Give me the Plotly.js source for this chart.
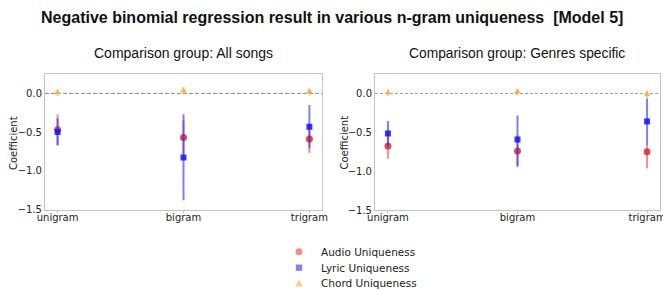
<!DOCTYPE html>
<html><head><meta charset="utf-8">
<script src="https://cdn.plot.ly/plotly-3.0.1.min.js"></script>
<style>body{margin:0;padding:0;background:#fff}#chart{width:663px;height:290px}</style>
</head><body><div id="chart"></div>
<script>
const ngrams = ['unigram', 'bigram', 'trigram'];
const seriesNames = ['Audio Uniqueness', 'Lyric Uniqueness', 'Chord Uniqueness'];
// Left: All songs
const allAudio = [-0.47, -0.57, -0.59];
const allAudioErrUp = [0.20, 0.22, 0.18];
const allAudioErrDown = [0.20, 0.22, 0.18];
const allLyric = [-0.50, -0.83, -0.43];
const allLyricErrUp = [0.18, 0.56, 0.28];
const allLyricErrDown = [0.17, 0.55, 0.28];
const allChord = [0.01, 0.035, 0.02];
const allChordErr = [0.045, 0.05, 0.045];
// Right: Genres specific
const genAudio = [-0.675, -0.74, -0.75];
const genAudioErrUp = [0.17, 0.20, 0.08];
const genAudioErrDown = [0.165, 0.21, 0.215];
const genLyric = [-0.515, -0.593, -0.36];
const genLyricErrUp = [0.16, 0.31, 0.295];
const genLyricErrDown = [0.16, 0.34, 0.31];
const genChord = [0.01, 0.02, -0.01];
const genChordErr = [0.045, 0.045, 0.05];

const cAudio = 'rgba(228,40,40,0.85)', cAudioErr = 'rgba(235,70,70,0.6)';
const cLyric = 'rgba(20,20,255,0.85)', cLyricErr = 'rgba(40,40,255,0.6)';
const cChord = 'rgba(245,170,60,0.85)', cChordErr = 'rgba(245,170,60,0.6)';

function tr(name, y, up, down, color, ecolor, symbol, size, xa, ya) {
  return {
    type: 'scatter', mode: 'markers', x: ngrams, y: y, name: name,
    xaxis: xa, yaxis: ya, showlegend: false,
    marker: {color: color, symbol: symbol, size: size},
    error_y: {type: 'data', array: up, arrayminus: down, color: ecolor, thickness: 2, width: 0}
  };
}
const data = [
  tr(seriesNames[0], allAudio, allAudioErrUp, allAudioErrDown, cAudio, cAudioErr, 'circle', 7, 'x', 'y'),
  tr(seriesNames[1], allLyric, allLyricErrUp, allLyricErrDown, cLyric, cLyricErr, 'square', 6, 'x', 'y'),
  tr(seriesNames[2], allChord, allChordErr, allChordErr, cChord, cChordErr, 'triangle-up', 6, 'x', 'y'),
  tr(seriesNames[0], genAudio, genAudioErrUp, genAudioErrDown, cAudio, cAudioErr, 'circle', 7, 'x2', 'y2'),
  tr(seriesNames[1], genLyric, genLyricErrUp, genLyricErrDown, cLyric, cLyricErr, 'square', 6, 'x2', 'y2'),
  tr(seriesNames[2], genChord, genChordErr, genChordErr, cChord, cChordErr, 'triangle-up', 6, 'x2', 'y2')
];
const tickFont = {family: 'DejaVu Sans', size: 10, color: '#222'};
function xax(domain, anchor) {
  return {domain: domain, anchor: anchor, type: 'category', range: [-0.1, 2.1], automargin: false,
    showline: true, mirror: true, linecolor: '#c4c4c4', linewidth: 1,
    showgrid: false, zeroline: false, ticks: 'outside', ticklen: 2, tickcolor: '#c4c4c4',
    tickfont: tickFont, ticklabelstandoff: -4};
}
function yax(domain, anchor) {
  return {domain: domain, anchor: anchor, range: [-1.5, 0.25], automargin: false,
    tickvals: [0, -0.5, -1, -1.5], tickformat: '.1f',
    showline: true, mirror: true, linecolor: '#c4c4c4', linewidth: 1,
    showgrid: false, zeroline: false, ticks: '', tickfont: tickFont};
}
// Legend drawn as decoration
const legColors = ['rgba(235,90,90,0.7)', 'rgba(90,90,255,0.75)', 'rgba(248,200,120,0.9)'];
const legY = [251.7, 267.7, 283.3];
const legMarkX = 299, legTextX = 319;
const shapes = [
  {type: 'line', xref: 'x domain', yref: 'y', x0: 0, x1: 1, y0: 0, y1: 0, line: {color: '#888', width: 1, dash: '4px,2px'}, layer: 'below'},
  {type: 'line', xref: 'x2 domain', yref: 'y2', x0: 0, x1: 1, y0: 0, y1: 0, line: {color: '#999', width: 1, dash: '3px,2px'}, layer: 'below'}
];
const py = v => 1 - v / 290, px = v => v / 663;
shapes.push({type: 'circle', xref: 'paper', yref: 'paper', xsizemode: 'pixel', ysizemode: 'pixel',
  xanchor: px(legMarkX), yanchor: py(legY[0]), x0: -3.5, x1: 3.5, y0: -3.5, y1: 3.5,
  fillcolor: legColors[0], line: {width: 0}});
shapes.push({type: 'rect', xref: 'paper', yref: 'paper', xsizemode: 'pixel', ysizemode: 'pixel',
  xanchor: px(legMarkX), yanchor: py(legY[1]), x0: -3.2, x1: 3.2, y0: -3.2, y1: 3.2,
  fillcolor: legColors[1], line: {width: 0}});
shapes.push({type: 'path', xref: 'paper', yref: 'paper', xsizemode: 'pixel', ysizemode: 'pixel',
  xanchor: px(legMarkX), yanchor: py(legY[2]), path: 'M -3.8 -3.2 L 3.8 -3.2 L 0 3.6 Z',
  fillcolor: legColors[2], line: {width: 0}});
const annotations = [
  {text: '<b>Negative binomial regression result in various n-gram uniqueness  [Model 5]</b>', xref: 'paper', yref: 'paper',
    x: 0.5, y: py(17), xanchor: 'center', yanchor: 'middle', showarrow: false,
    font: {family: 'Liberation Sans', size: 16, color: '#111'}},
  {text: 'Comparison group: All songs', xref: 'paper', yref: 'paper',
    x: px(183), y: py(53), xanchor: 'center', yanchor: 'middle', showarrow: false,
    font: {family: 'Liberation Sans', size: 14, color: '#111'}},
  {text: 'Comparison group: Genres specific', xref: 'paper', yref: 'paper',
    x: px(517), y: py(53), xanchor: 'center', yanchor: 'middle', showarrow: false,
    font: {family: 'Liberation Sans', size: 13.8, color: '#111'}},
  {text: 'Coefficient', xref: 'paper', yref: 'paper', x: px(13), y: py(143), textangle: -90,
    xanchor: 'center', yanchor: 'middle', showarrow: false,
    font: {family: 'DejaVu Sans', size: 10, color: '#222'}},
  {text: 'Coefficient', xref: 'paper', yref: 'paper', x: px(343.5), y: py(143), textangle: -90,
    xanchor: 'center', yanchor: 'middle', showarrow: false,
    font: {family: 'DejaVu Sans', size: 10, color: '#222'}}
];
seriesNames.forEach((n, i) => annotations.push({text: n, xref: 'paper', yref: 'paper',
  x: px(legTextX), y: py(legY[i]), xanchor: 'left', yanchor: 'middle', showarrow: false,
  font: {family: 'DejaVu Sans', size: 10.5, color: '#222'}}));
const layout = {
  width: 663, height: 290, margin: {l: 0, r: 0, t: 0, b: 0},
  paper_bgcolor: '#fff', plot_bgcolor: '#fff',
  xaxis: xax([px(45), px(322)], 'y'),
  yaxis: yax([py(209.5), py(74)], 'x'),
  xaxis2: xax([px(375), px(660)], 'y2'),
  yaxis2: yax([py(210), py(74)], 'x2'),
  showlegend: false,
  shapes: shapes,
  annotations: annotations
};
Plotly.newPlot('chart', data, layout, {displayModeBar: false, staticPlot: true});
</script></body></html>
